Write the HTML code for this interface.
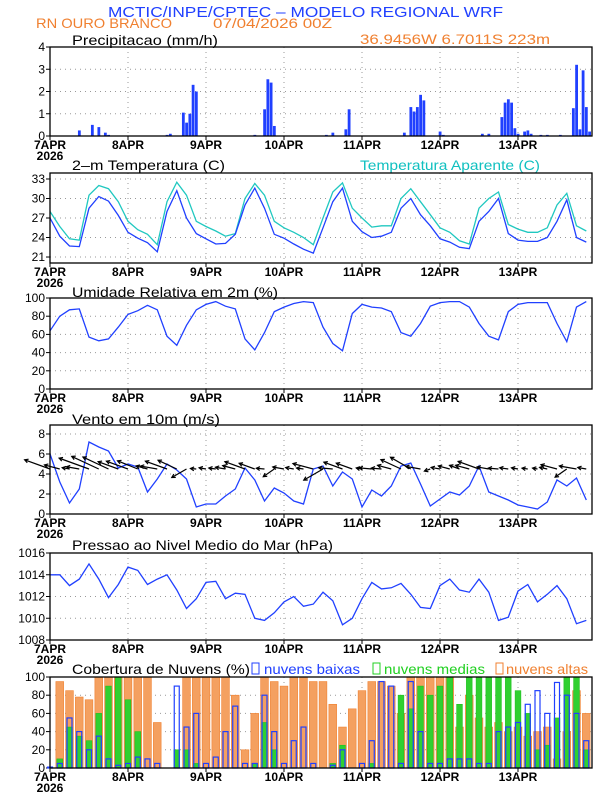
<!DOCTYPE html>
<html><head><meta charset="utf-8"><style>
html,body{margin:0;padding:0;background:#fff}
svg{display:block}
text{font-family:"Liberation Sans",sans-serif}
</style></head><body>
<svg id="chart" width="612" height="792" viewBox="0 0 612 792" xmlns="http://www.w3.org/2000/svg">
<text x="108" y="17" fill="#2040ff" font-size="15" textLength="395" lengthAdjust="spacingAndGlyphs">MCTIC/INPE/CPTEC – MODELO REGIONAL WRF</text>
<text x="36" y="28" fill="#f08030" font-size="14" textLength="136" lengthAdjust="spacingAndGlyphs">RN OURO BRANCO</text>
<text x="213" y="28" fill="#f08030" font-size="14" textLength="119" lengthAdjust="spacingAndGlyphs">07/04/2026 00Z</text>
<text x="360" y="44" fill="#f08030" font-size="14" textLength="190" lengthAdjust="spacingAndGlyphs">36.9456W 6.7011S 223m</text>
<text x="72" y="45" font-size="14" textLength="146" lengthAdjust="spacingAndGlyphs">Precipitacao (mm/h)</text>
<text x="72" y="170" font-size="14" textLength="153" lengthAdjust="spacingAndGlyphs">2–m Temperatura (C)</text>
<text x="360" y="170" fill="#10c0c0" font-size="14" textLength="180" lengthAdjust="spacingAndGlyphs">Temperatura Aparente (C)</text>
<text x="72" y="297" font-size="14" textLength="206" lengthAdjust="spacingAndGlyphs">Umidade Relativa em 2m (%)</text>
<text x="72" y="424" font-size="14" textLength="148" lengthAdjust="spacingAndGlyphs">Vento em 10m (m/s)</text>
<text x="72" y="550" font-size="14" textLength="261" lengthAdjust="spacingAndGlyphs">Pressao ao Nivel Medio do Mar (hPa)</text>
<text x="72" y="674" font-size="14" textLength="178" lengthAdjust="spacingAndGlyphs">Cobertura de Nuvens (%)</text>
<rect x="252" y="663" width="7" height="11" fill="none" stroke="#2040ff"/>
<text x="264" y="674" fill="#2040ff" font-size="14" textLength="96" lengthAdjust="spacingAndGlyphs">nuvens baixas</text>
<rect x="373" y="663" width="7" height="11" fill="none" stroke="#20d020"/>
<text x="384" y="674" fill="#20d020" font-size="14" textLength="101" lengthAdjust="spacingAndGlyphs">nuvens medias</text>
<rect x="496" y="663" width="7" height="11" fill="none" stroke="#f08030"/>
<text x="506" y="674" fill="#f08030" font-size="14" textLength="82" lengthAdjust="spacingAndGlyphs">nuvens altas</text>
</svg>
<script>
// ---- data (3-hourly unless noted) ----
const dayLabels = ["7APR","8APR","9APR","10APR","11APR","12APR","13APR"];
const precipHours = [9,13,15,17,18,36,37,41,42,43,44,45,63,66,67,68,69,85,87,91,92,109,111,112,113,114,115,120,121,133,135,139,140,141,142,143,144,146,147,148,151,153,157,161,162,163,164,165,166];
const precipVals  = [0.25,0.5,0.4,0.15,0.05,0.05,0.1,1.05,0.6,1.0,2.3,2.0,0.05,1.2,2.55,2.4,0.45,0.05,0.15,0.3,1.2,0.15,1.3,1.1,1.3,1.85,1.6,0.2,0.05,0.1,0.1,0.85,1.5,1.65,1.5,0.35,0.1,0.2,0.25,0.1,0.05,0.05,0.05,1.25,3.2,0.3,2.95,1.3,0.2];
const tempVals = [27.0,24.2,22.7,22.6,28.5,30.3,29.6,27.4,24.8,23.9,23.2,21.8,28.0,31.2,27.0,24.6,23.8,23.0,23.1,24.5,29.0,31.6,28.5,24.5,23.9,23.0,22.2,21.6,25.5,29.5,31.6,26.5,24.9,24.0,24.2,24.8,28.5,30.0,27.5,25.8,23.8,23.3,22.5,22.3,26.5,28.0,30.0,24.6,23.6,23.4,23.4,24.0,26.5,29.8,24.0,23.3];
const appTempVals = [28.0,25.7,23.8,23.6,30.5,32.0,31.5,29.5,26.5,25.2,24.5,22.9,29.5,32.5,30.5,26.5,25.7,25.0,24.2,24.6,30.0,32.3,30.5,26.5,25.5,24.8,24.0,22.9,27.0,31.0,32.4,28.5,27.0,25.6,25.8,25.8,30.0,31.5,29.5,27.5,25.5,24.8,23.5,23.0,28.5,30.0,31.0,26.0,25.3,24.8,24.8,25.5,29.0,30.8,25.8,25.0];
const rhVals = [64,80,87,88,57,53,55,68,82,86,92,87,58,48,70,87,93,96,91,88,55,43,62,85,90,94,96,95,68,50,42,83,93,90,89,85,62,58,72,91,95,96,96,90,72,58,54,85,93,95,95,95,72,52,90,96];
const windVals = [6.0,3.2,1.1,2.5,7.2,6.7,6.3,4.6,5.0,4.7,2.2,3.5,5.0,4.4,3.5,0.7,1.0,1.0,1.8,2.5,4.6,3.4,1.3,2.6,2.1,1.3,1.0,4.5,4.8,2.8,4.2,3.5,0.7,2.4,1.8,2.8,4.8,5.1,3.0,0.8,1.5,2.2,1.9,2.8,4.8,2.2,1.8,1.4,0.9,0.7,0.5,1.2,3.4,2.8,3.6,1.4];
const windDirs = [160,165,170,170,160,155,155,160,160,158,165,170,160,155,210,175,170,172,170,165,160,160,175,215,170,170,172,165,210,175,160,160,170,175,175,165,155,150,170,200,170,165,160,165,160,170,175,172,170,172,170,168,165,215,170,170];
const pressVals = [1014.0,1014.0,1013.0,1013.6,1015.0,1013.6,1011.9,1013.1,1014.7,1014.4,1013.1,1013.6,1014.0,1012.6,1010.9,1011.8,1013.3,1013.4,1011.8,1012.3,1012.2,1010.0,1009.8,1010.5,1011.5,1012.0,1011.1,1011.3,1012.4,1011.6,1009.4,1010.0,1011.8,1013.3,1012.7,1012.8,1013.2,1012.2,1011.0,1010.9,1013.0,1013.6,1012.6,1012.4,1013.6,1012.4,1009.8,1010.1,1012.5,1013.1,1011.5,1012.2,1013.0,1011.8,1009.5,1009.8];
const highCloud = [0,95,85,78,75,100,100,100,100,100,100,50,0,0,100,100,100,100,100,80,20,60,100,95,90,100,100,95,95,70,45,65,85,95,95,90,60,100,100,100,100,100,45,80,55,45,50,40,45,35,40,45,10,40,85,60];
const midCloud = [0,10,45,35,30,60,90,100,75,40,0,0,0,20,20,5,0,0,0,0,0,5,50,20,0,0,0,0,0,5,25,0,0,5,0,0,80,65,90,80,90,100,70,100,100,100,100,100,85,60,20,25,55,100,100,20];
const lowCloud = [1,5,55,40,20,35,10,3,5,12,10,5,0,90,45,60,5,12,40,68,5,5,80,40,5,30,45,5,0,3,20,0,5,30,95,90,5,95,40,5,5,10,10,10,5,5,40,45,50,70,85,60,94,80,60,30];

const NS="http://www.w3.org/2000/svg";
const svg=document.getElementById('chart');
const X0=50, X1=592, DAY=78;
function xh(h){return X0+h*DAY/24;}
function el(tag,attrs,parent){const e=document.createElementNS(NS,tag);for(const k in attrs)e.setAttribute(k,attrs[k]);(parent||svg).appendChild(e);return e;}

const panels={
 precip:{top:47,bot:136,min:0,max:4,ticks:[0,1,2,3,4]},
 temp:{top:173,bot:263,min:20.08,max:33.92,ticks:[21,24,27,30,33]},
 rh:{top:298,bot:389,min:0,max:100,ticks:[0,20,40,60,80,100]},
 wind:{top:425,bot:514,min:0,max:8.9,ticks:[0,2,4,6,8]},
 press:{top:553,bot:640,min:1008,max:1016,ticks:[1008,1010,1012,1014,1016]},
 cloud:{top:677,bot:768,min:0,max:100,ticks:[0,20,40,60,80,100]}
};
function yv(p,v){return p.bot-(v-p.min)/(p.max-p.min)*(p.bot-p.top);}

for(const key in panels){
 const p=panels[key];
 const g=el('g',{});
 
 
 const ax=el('g',{},g);
 
 
 p.g=g;
 p.ticks.forEach(t=>{
  const y=yv(p,t);
  const gl=el('line',{x1:X0,x2:X1,y1:y,y2:y,stroke:'#999','stroke-width':1,'stroke-dasharray':'1,4'},ax);
  
  
  const tk=el('line',{x1:X0-4,x2:X0,y1:y,y2:y,stroke:'#000'},ax);
  
  
  const tl=el('text',{x:X0-5,y:y+4,'text-anchor':'end','font-size':12},ax);
  tl.textContent=String(t);
  
  
 });
 dayLabels.forEach((d,i)=>{
  const x=xh(i*24);
  if(i>0){
   const gl=el('line',{x1:x,x2:x,y1:p.top,y2:p.bot,stroke:'#999','stroke-width':1,'stroke-dasharray':'1,4'},ax);
   
   
  }
  const tk=el('line',{x1:x,x2:x,y1:p.bot,y2:p.bot+4,stroke:'#000'},ax);
  
  
  const tl=el('text',{x:x,y:p.bot+13,'text-anchor':'middle','font-size':12,'font-weight':'bold'},ax);
  tl.textContent=d;
  
  
 });
 const yr=el('text',{x:X0,y:p.bot+24,'text-anchor':'middle','font-size':12,'font-weight':'bold'},ax);
 yr.textContent='2026';
 
 
}
function frame(p,key){
 const f=el('rect',{x:X0,y:p.top,width:X1-X0,height:p.bot-p.top,fill:'none',stroke:'#000','stroke-width':1.3});
 
 
}
function line(p,vals,color,name){
 const pts=vals.map((v,i)=>xh(i*3).toFixed(1)+','+yv(p,v).toFixed(1)).join(' ');
 const l=el('polyline',{points:pts,fill:'none',stroke:color,'stroke-width':1.3},p.g);
 
 
}
// precip bars
{
 const p=panels.precip;
 precipHours.forEach((h,i)=>{
  const y=yv(p,precipVals[i]);
  const b=el('rect',{x:xh(h)-1.3,y:y,width:2.8,height:p.bot-y,fill:'#2040ff'},p.g);
  
  
 });
}
// clouds
{
 const p=panels.cloud, w=DAY/8;
 highCloud.forEach((v,i)=>{
  const y=yv(p,v);
  const b=el('rect',{x:xh(i*3)-w/2+1,y:y,width:w-2,height:p.bot-y,fill:'#f4a060',stroke:'#f08030','stroke-width':0.6},p.g);
  
  
 });
 midCloud.forEach((v,i)=>{
  const y=yv(p,v);
  const b=el('rect',{x:xh(i*3)-w/2+2,y:y,width:w-4,height:p.bot-y,fill:'#30d030',stroke:'#20c020','stroke-width':0.6},p.g);
  
  
 });
 lowCloud.forEach((v,i)=>{
  const y=yv(p,v);
  const b=el('rect',{x:xh(i*3)-2.5,y:y,width:5,height:p.bot-y,fill:'none',stroke:'#2040ff','stroke-width':1.2},p.g);
  
  
 });
}
line(panels.temp,appTempVals,'#20c8c0','apparent-temperature-line');
line(panels.temp,tempVals,'#2040ff','temperature-line');
line(panels.rh,rhVals,'#2040ff','humidity-line');
line(panels.press,pressVals,'#2040ff','pressure-line');
line(panels.wind,windVals,'#2040ff','wind-speed-line');
// wind arrows
{
 const p=panels.wind, by=yv(p,4.5);
 windVals.forEach((s,i)=>{
  const x=xh(i*3), a=windDirs[i]*Math.PI/180, L=s*4+3;
  const ex=x+Math.cos(a)*L, ey=by-Math.sin(a)*L;
  const g=el('g',{},p.g);
  
  
  el('line',{x1:x,y1:by,x2:ex,y2:ey,stroke:'#000','stroke-width':1.2},g);
  const h1=a+Math.PI-0.5, h2=a+Math.PI+0.5;
  el('polyline',{points:(ex+Math.cos(h1)*4)+','+(ey-Math.sin(h1)*4)+' '+ex+','+ey+' '+(ex+Math.cos(h2)*4)+','+(ey-Math.sin(h2)*4),fill:'none',stroke:'#000','stroke-width':1.2},g);
 });
}
for(const key in panels) frame(panels[key],key);
</script>
</body></html>
